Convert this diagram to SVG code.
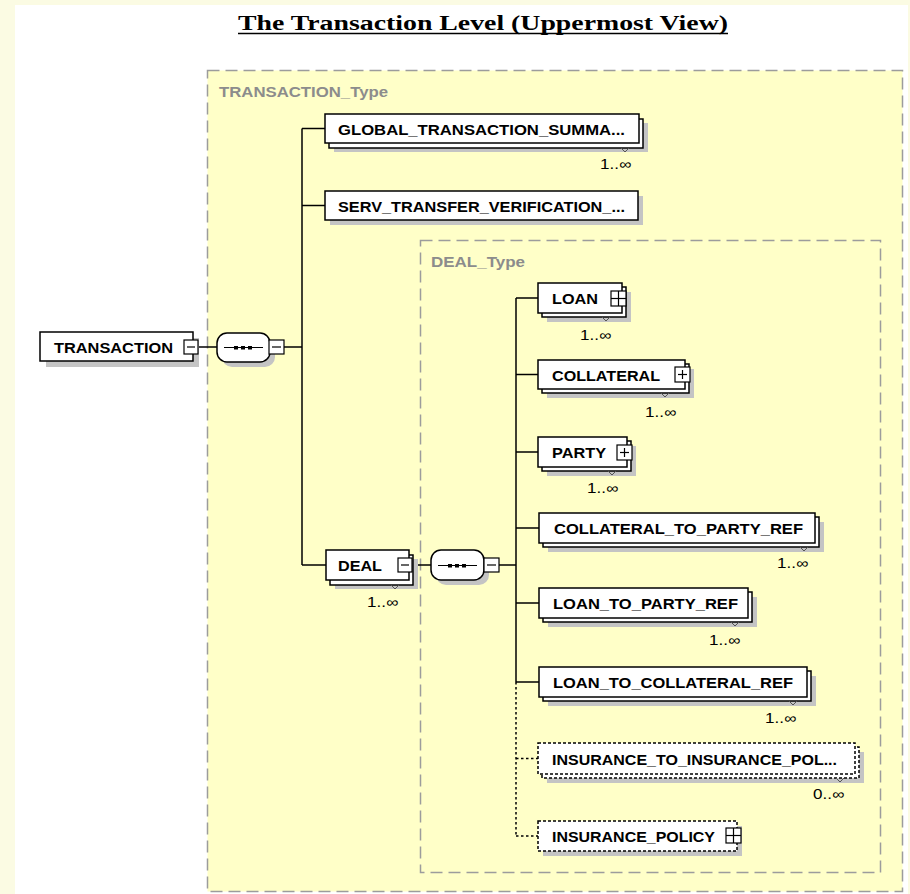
<svg xmlns="http://www.w3.org/2000/svg" width="910" height="894" viewBox="0 0 910 894">
<style>
.box{fill:#fff;stroke:#000;stroke-width:1.5}
.opt{fill:#fff;stroke:#000;stroke-width:1.5;stroke-dasharray:3 2}
.sh{fill:#c4c4c4}
.grp{fill:#ffffc8;stroke:#9c9c9c;stroke-width:1.5;stroke-dasharray:12 6}
.lbl{font-family:"Liberation Sans",Arial,sans-serif;font-weight:bold;font-size:15px;fill:#000}
.occ{font-family:"Liberation Sans",Arial,sans-serif;font-size:14px;fill:#000}
.typ{font-family:"Liberation Sans",Arial,sans-serif;font-weight:bold;font-size:14px;fill:#8c8c8c}
.wire{stroke:#000;stroke-width:1.5;fill:none}
.dotw{stroke:#000;stroke-width:1.5;fill:none;stroke-dasharray:2.5 2.5}
.btn{fill:#fff;stroke:#000;stroke-width:1.2}
.bl{stroke:#000;stroke-width:1.2;fill:none}
.notch{stroke:#555;stroke-width:1;fill:none}
</style>
<rect x="0" y="0" width="910" height="894" fill="#fbfbe3"/>
<rect x="15" y="5" width="893" height="889" fill="#ffffff"/>
<g id="title">
<text x="238" y="30" textLength="490" lengthAdjust="spacingAndGlyphs" style="font-family:'Liberation Serif','Times New Roman',serif;font-weight:bold;font-size:20px;fill:#000">The Transaction Level (Uppermost View)</text>
<line x1="238" y1="33.5" x2="728" y2="33.5" stroke="#000" stroke-width="1.5"/>
</g>
<g id="TRANSACTION_Type">
<rect class="grp" x="207.5" y="70.5" width="695" height="821"/>
<text class="typ" x="219" y="97" textLength="169" lengthAdjust="spacingAndGlyphs">TRANSACTION_Type</text>
</g>
<g id="DEAL_Type">
<rect class="grp" x="420.5" y="240.5" width="460" height="632"/>
<text class="typ" x="431" y="267" textLength="94" lengthAdjust="spacingAndGlyphs">DEAL_Type</text>
</g>
<g id="connectors">
<line class="wire" x1="198" y1="347" x2="217" y2="347"/>
<line class="wire" x1="284" y1="347" x2="302" y2="347"/>
<line class="wire" x1="302" y1="128.5" x2="302" y2="565"/>
<line class="wire" x1="302" y1="128.5" x2="325" y2="128.5"/>
<line class="wire" x1="302" y1="205.5" x2="325" y2="205.5"/>
<line class="wire" x1="302" y1="565" x2="326" y2="565"/>
<line class="wire" x1="412" y1="565" x2="431" y2="565"/>
<line class="wire" x1="499" y1="565" x2="516" y2="565"/>
<line class="wire" x1="516" y1="298" x2="516" y2="682"/>
<line class="dotw" x1="516" y1="682" x2="516" y2="836"/>
<line class="wire" x1="516" y1="298" x2="538" y2="298"/>
<line class="wire" x1="516" y1="374.5" x2="538" y2="374.5"/>
<line class="wire" x1="516" y1="452" x2="538" y2="452"/>
<line class="wire" x1="516" y1="528" x2="539" y2="528"/>
<line class="wire" x1="516" y1="603" x2="539" y2="603"/>
<line class="wire" x1="516" y1="682" x2="539" y2="682"/>
<line class="dotw" x1="516" y1="758.5" x2="538" y2="758.5"/>
<line class="dotw" x1="516" y1="836" x2="538" y2="836"/>
</g>
<g id="TRANSACTION">
<rect class="sh" x="46" y="338" width="153" height="29"/>
<rect class="box" x="40" y="332" width="153" height="29"/>
<text class="lbl" x="54" y="352.5" textLength="119" lengthAdjust="spacingAndGlyphs">TRANSACTION</text>
<rect class="btn" x="184" y="340" width="14" height="14"/>
<line class="bl" x1="187" y1="347" x2="195" y2="347"/>
</g>
<g id="seq1">
<rect class="sh" x="222" y="338" width="53" height="29" rx="10"/>
<rect class="box" x="217" y="333" width="53" height="29" rx="10"/>
<line class="bl" x1="224" y1="347.5" x2="263" y2="347.5"/>
<rect x="234" y="346" width="4" height="3.5"/><rect x="241" y="346" width="4" height="3.5"/><rect x="248" y="346" width="4" height="3.5"/>
<rect class="btn" x="269" y="340" width="15" height="14"/>
<line class="bl" x1="272" y1="347" x2="281" y2="347"/>
</g>
<g id="GLOBAL_TRANSACTION_SUMMARY">
<rect class="sh" x="334" y="123" width="314" height="29"/>
<rect class="box" x="329" y="119" width="314" height="29"/>
<rect class="box" x="325" y="114" width="314" height="29"/>
<text class="lbl" x="338" y="134.5" textLength="287" lengthAdjust="spacingAndGlyphs">GLOBAL_TRANSACTION_SUMMA...</text>
<path class="notch" d="M621,148 L625,152 L629,148"/>
<text class="occ" x="600" y="169" textLength="31" lengthAdjust="spacingAndGlyphs">1..∞</text>
</g>
<g id="SERV_TRANSFER_VERIFICATION">
<rect class="sh" x="330" y="196" width="313" height="29"/>
<rect class="box" x="325" y="191" width="313" height="29"/>
<text class="lbl" x="338" y="211.5" textLength="287" lengthAdjust="spacingAndGlyphs">SERV_TRANSFER_VERIFICATION_...</text>
</g>
<g id="DEAL">
<rect class="sh" x="335" y="559" width="83" height="30"/>
<rect class="box" x="330" y="555" width="83" height="30"/>
<rect class="box" x="326" y="550" width="83" height="30"/>
<text class="lbl" x="338" y="571" textLength="44" lengthAdjust="spacingAndGlyphs">DEAL</text>
<rect class="btn" x="398" y="558" width="14" height="14"/>
<line class="bl" x1="401" y1="565" x2="409" y2="565"/>
<path class="notch" d="M391,585 L395,589 L399,585"/>
<text class="occ" x="367" y="607" textLength="31" lengthAdjust="spacingAndGlyphs">1..∞</text>
</g>
<g id="seq2">
<rect class="sh" x="436" y="555" width="53" height="30" rx="10"/>
<rect class="box" x="431" y="550" width="53" height="30" rx="10"/>
<line class="bl" x1="438" y1="565.5" x2="477" y2="565.5"/>
<rect x="448" y="564" width="4" height="3.5"/><rect x="455" y="564" width="4" height="3.5"/><rect x="462" y="564" width="4" height="3.5"/>
<rect class="btn" x="484" y="558" width="15" height="14"/>
<line class="bl" x1="487" y1="565" x2="496" y2="565"/>
</g>
<g id="LOAN">
<rect class="sh" x="547" y="292" width="84" height="30"/>
<rect class="box" x="542" y="287" width="84" height="30"/>
<rect class="box" x="538" y="283" width="84" height="30"/>
<text class="lbl" x="552" y="304" textLength="46" lengthAdjust="spacingAndGlyphs">LOAN</text>
<rect class="btn" x="611" y="291" width="15" height="15"/>
<line class="bl" x1="618.5" y1="291" x2="618.5" y2="306"/><line class="bl" x1="611" y1="298.5" x2="626" y2="298.5"/>
<path class="notch" d="M602,317 L606,321 L610,317"/>
<text class="occ" x="580" y="340" textLength="31" lengthAdjust="spacingAndGlyphs">1..∞</text>
</g>
<g id="COLLATERAL">
<rect class="sh" x="547" y="369" width="147" height="29"/>
<rect class="box" x="542" y="364" width="147" height="29"/>
<rect class="box" x="538" y="360" width="147" height="29"/>
<text class="lbl" x="552" y="380.5" textLength="108" lengthAdjust="spacingAndGlyphs">COLLATERAL</text>
<rect class="btn" x="675" y="367" width="15" height="15"/>
<line class="bl" x1="682.5" y1="370" x2="682.5" y2="379"/><line class="bl" x1="678" y1="374.5" x2="687" y2="374.5"/>
<path class="notch" d="M661,393 L665,397 L669,393"/>
<text class="occ" x="645" y="417" textLength="31" lengthAdjust="spacingAndGlyphs">1..∞</text>
</g>
<g id="PARTY">
<rect class="sh" x="547" y="446" width="89" height="30"/>
<rect class="box" x="542" y="441" width="89" height="30"/>
<rect class="box" x="538" y="437" width="89" height="30"/>
<text class="lbl" x="552" y="458" textLength="54" lengthAdjust="spacingAndGlyphs">PARTY</text>
<rect class="btn" x="617" y="445" width="15" height="15"/>
<line class="bl" x1="624.5" y1="448" x2="624.5" y2="457"/><line class="bl" x1="620" y1="452.5" x2="629" y2="452.5"/>
<path class="notch" d="M608,471 L612,475 L616,471"/>
<text class="occ" x="587" y="493" textLength="31" lengthAdjust="spacingAndGlyphs">1..∞</text>
</g>
<g id="COLLATERAL_TO_PARTY_REF">
<rect class="sh" x="548" y="522" width="276" height="30"/>
<rect class="box" x="543" y="517" width="276" height="30"/>
<rect class="box" x="539" y="513" width="276" height="30"/>
<text class="lbl" x="554" y="534" textLength="249" lengthAdjust="spacingAndGlyphs">COLLATERAL_TO_PARTY_REF</text>
<path class="notch" d="M800,547 L804,551 L808,547"/>
<text class="occ" x="777" y="568" textLength="31" lengthAdjust="spacingAndGlyphs">1..∞</text>
</g>
<g id="LOAN_TO_PARTY_REF">
<rect class="sh" x="548" y="597" width="209" height="30"/>
<rect class="box" x="543" y="592" width="209" height="30"/>
<rect class="box" x="539" y="588" width="209" height="30"/>
<text class="lbl" x="553" y="609" textLength="185" lengthAdjust="spacingAndGlyphs">LOAN_TO_PARTY_REF</text>
<path class="notch" d="M731,622 L735,626 L739,622"/>
<text class="occ" x="709" y="645" textLength="31" lengthAdjust="spacingAndGlyphs">1..∞</text>
</g>
<g id="LOAN_TO_COLLATERAL_REF">
<rect class="sh" x="548" y="676" width="268" height="30"/>
<rect class="box" x="543" y="671" width="268" height="30"/>
<rect class="box" x="539" y="667" width="268" height="30"/>
<text class="lbl" x="553" y="688" textLength="240" lengthAdjust="spacingAndGlyphs">LOAN_TO_COLLATERAL_REF</text>
<path class="notch" d="M789,701 L793,705 L797,701"/>
<text class="occ" x="765" y="723" textLength="31" lengthAdjust="spacingAndGlyphs">1..∞</text>
</g>
<g id="INSURANCE_TO_INSURANCE_POLICY">
<rect class="sh" x="547" y="752" width="317" height="31"/>
<rect class="opt" x="542" y="747" width="317" height="31"/>
<rect class="opt" x="538" y="743" width="317" height="31"/>
<text class="lbl" x="552" y="764.5" textLength="285" lengthAdjust="spacingAndGlyphs">INSURANCE_TO_INSURANCE_POL...</text>
<path class="notch" d="M836,778 L840,782 L844,778"/>
<text class="occ" x="813" y="799" textLength="31" lengthAdjust="spacingAndGlyphs">0..∞</text>
</g>
<g id="INSURANCE_POLICY">
<rect class="sh" x="543" y="826" width="199" height="30"/>
<rect class="opt" x="538" y="821" width="199" height="30"/>
<text class="lbl" x="552" y="842" textLength="163" lengthAdjust="spacingAndGlyphs">INSURANCE_POLICY</text>
<rect class="btn" x="726" y="828" width="15" height="15"/>
<line class="bl" x1="733.5" y1="828" x2="733.5" y2="843"/><line class="bl" x1="726" y1="835.5" x2="741" y2="835.5"/>
</g>
</svg>
